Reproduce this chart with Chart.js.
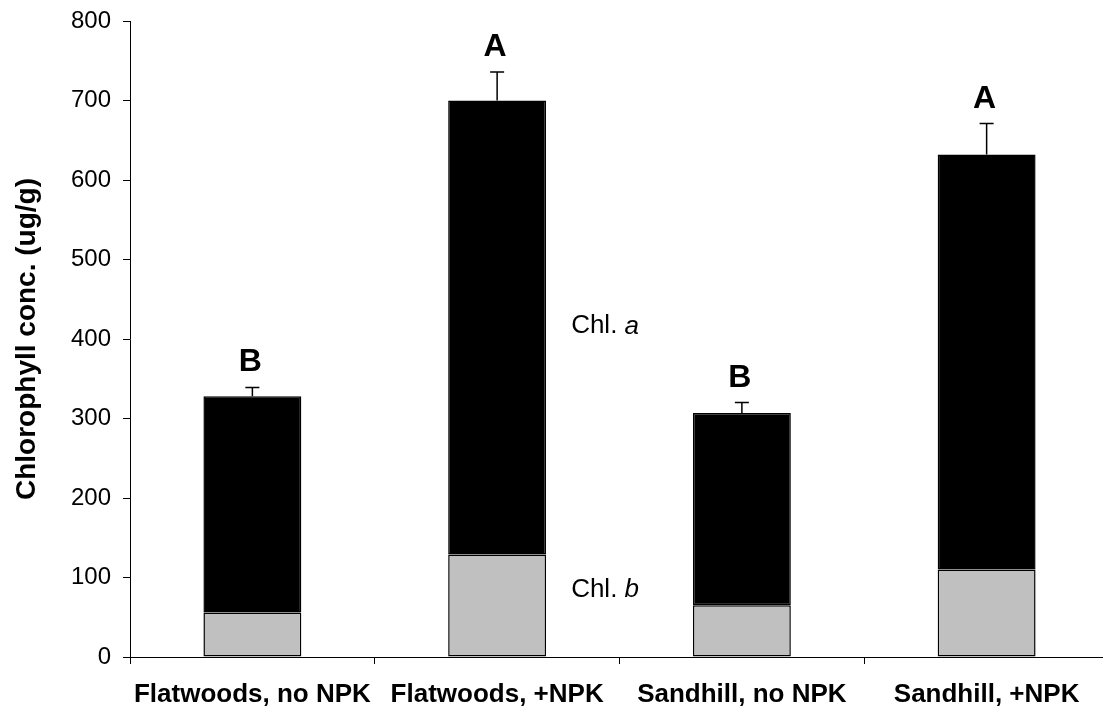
<!DOCTYPE html>
<html>
<head>
<meta charset="utf-8">
<script src="https://cdn.jsdelivr.net/npm/chart.js@4.4.1/dist/chart.umd.min.js"></script>
<style>
    html, body { margin: 0; padding: 0; overflow: hidden; background: #fff; }
</style>
</head>
<body>
<canvas id="chlChart" width="1112" height="711"></canvas>
<script>
// Data
const categories = ['Flatwoods, no NPK', 'Flatwoods, +NPK', 'Sandhill, no NPK', 'Sandhill, +NPK'];
const chlB = [56, 129, 65, 110];
const chlA = [272, 571, 242, 522];
const stdErr = [11, 36, 13, 39];
const sigLetters = ['B', 'A', 'B', 'A'];

const FONT = '"Liberation Sans", Arial, Helvetica, sans-serif';

// error bars, letters and the Chl. a / Chl. b notes
const annotatePlugin = {
    id: 'annotate',
    afterDatasetsDraw(chart) {
        const ctx = chart.ctx;
        const x = chart.scales.x;
        const y = chart.scales.y;
        ctx.save();
        ctx.strokeStyle = '#000';
        ctx.fillStyle = '#000';
        ctx.lineWidth = 1.5;
        for (let i = 0; i < categories.length; i++) {
            const total = chlA[i] + chlB[i];
            const cx = x.getPixelForValue(i);
            const yTop = y.getPixelForValue(total);
            const yErr = y.getPixelForValue(total + stdErr[i]);
            ctx.beginPath();
            ctx.moveTo(cx, yTop);
            ctx.lineTo(cx, yErr);
            ctx.moveTo(cx - 7, yErr);
            ctx.lineTo(cx + 7, yErr);
            ctx.stroke();

            ctx.font = 'bold 32px ' + FONT;
            ctx.textAlign = 'center';
            ctx.textBaseline = 'alphabetic';
            ctx.fillText(sigLetters[i], cx - 2, yErr - 16);
        }

        // labels for the two stacked parts
        const lx = x.getPixelForValue(1) + 74;
        const notes = [['Chl. ', 'a', 416], ['Chl. ', 'b', 85]];
        ctx.textAlign = 'left';
        ctx.textBaseline = 'middle';
        notes.forEach(n => {
            const ly = y.getPixelForValue(n[2]);
            ctx.font = '26px ' + FONT;
            ctx.fillText(n[0], lx, ly);
            const w = ctx.measureText(n[0]).width;
            ctx.font = 'italic 26px ' + FONT;
            ctx.fillText(n[1], lx + w, ly);
        });
        ctx.restore();
    }
};

document.addEventListener('DOMContentLoaded', function () {
    const ctx = document.getElementById('chlChart').getContext('2d');

    new Chart(ctx, {
        type: 'bar',
        data: {
            labels: categories,
            datasets: [{
                label: 'Chl. b',
                data: chlB,
                backgroundColor: '#c0c0c0',
                borderColor: '#000',
                borderWidth: 1.5,
                borderSkipped: false,
            }, {
                label: 'Chl. a',
                data: chlA,
                backgroundColor: '#000',
                borderColor: '#000',
                borderWidth: 1.5,
                borderSkipped: false,
            }]
        },
        options: {
            responsive: false,
            animation: false,
            devicePixelRatio: 1,
            layout: { padding: { top: 21, right: 3, left: 0, bottom: 0 } },
            datasets: {
                bar: { barPercentage: 0.4, categoryPercentage: 1.0 }
            },
            plugins: {
                legend: { display: false },
                tooltip: { enabled: false }
            },
            scales: {
                x: {
                    stacked: true,
                    offset: true,
                    grid: {
                        offset: true,
                        drawOnChartArea: false,
                        drawTicks: true,
                        tickLength: 7,
                        color: '#000'
                    },
                    border: { display: true, color: '#000', width: 1 },
                    ticks: {
                        color: '#000',
                        padding: 15,
                        maxRotation: 0,
                        autoSkip: false,
                        font: { family: FONT, size: 26, weight: 'bold' }
                    },
                    afterFit(scale) { scale.height = 54; }
                },
                y: {
                    stacked: true,
                    min: 0,
                    max: 800,
                    grid: {
                        drawOnChartArea: false,
                        drawTicks: true,
                        tickLength: 7,
                        color: '#000'
                    },
                    border: { display: true, color: '#000', width: 1 },
                    ticks: {
                        stepSize: 100,
                        color: '#000',
                        padding: 12,
                        font: { family: FONT, size: 24 }
                    },
                    title: {
                        display: true,
                        text: 'Chlorophyll conc. (ug/g)',
                        color: '#000',
                        padding: { top: 10, bottom: 0 },
                        font: { family: FONT, size: 28, weight: 'bold' }
                    },
                    afterFit(scale) {
                        scale.width = 130;
                        scale.paddingTop = 0;
                        scale.paddingBottom = 0;
                    }
                }
            }
        },
        plugins: [annotatePlugin]
    });
});
</script>
</body>
</html>
